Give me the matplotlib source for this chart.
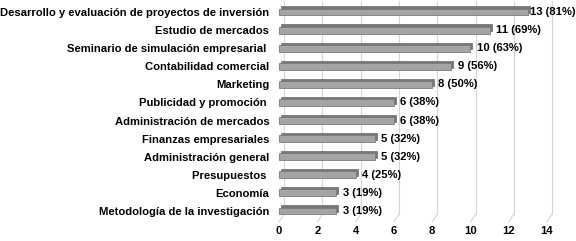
import matplotlib
matplotlib.use("Agg")
import matplotlib.pyplot as plt
from matplotlib.transforms import ScaledTranslation

categories = [
    "Desarrollo y evaluación de proyectos de inversión",
    "Estudio de mercados",
    "Seminario de simulación empresarial ",
    "Contabilidad comercial",
    "Marketing",
    "Publicidad y promoción ",
    "Administración de mercados",
    "Finanzas empresariales",
    "Administración general",
    "Presupuestos ",
    "Economía",
    "Metodología de la investigación",
]
counts = [13, 11, 10, 9, 8, 6, 6, 5, 5, 4, 3, 3]
percents = [81, 69, 63, 56, 50, 38, 38, 32, 32, 25, 19, 19]
xticks = [0, 2, 4, 6, 8, 10, 12, 14]

plt.rcParams['font.family'] = ['Liberation Sans', 'DejaVu Sans']

W, H = 576, 241
fig = plt.figure(figsize=(W / 100, H / 100), dpi=100)
left_px, right_px = 279, 547
top_px, bot_px = 1, 222
ax = fig.add_axes([left_px / W, 1 - bot_px / H, (right_px - left_px) / W, (bot_px - top_px) / H])

n = len(categories)
ypos = [n - 1 - i for i in range(n)]
ax.set_xlim(0, 14)
ax.set_ylim(-0.61, n - 1 + 0.61)

# back wall gridlines with a short floor diagonal (pseudo 3D)
dx = 0.27
floor_y = -0.17
for t in xticks:
    ax.plot([t + dx, t + dx], [n - 1 + 0.61, floor_y], color="#d4d4d4", lw=0.8, zorder=0, clip_on=False)
    ax.plot([t + dx, t], [floor_y, -0.61], color="#d4d4d4", lw=0.8, zorder=0, clip_on=False)

bh = 0.38
# depth / top face of bars
depth = ScaledTranslation(2.0 / 100, 2.2 / 100, fig.dpi_scale_trans)
ax.barh(ypos, counts, height=bh, color="#777777", edgecolor="#6a6a6a", lw=0.5,
        transform=ax.transData + depth, zorder=2)
ax.barh(ypos, counts, height=bh, color="#a4a4a4", edgecolor="#7a7a7a", lw=0.6, zorder=3)

for y, c, p in zip(ypos, counts, percents):
    ax.annotate(f"{c} ({p}%)", (c, y), xytext=(4.5 if c < 13 else 1.5, 0), textcoords="offset points",
                ha="left", va="center", fontsize=8.1, fontweight="bold", color="#000000")

ax.set_yticks(ypos)
ax.set_yticklabels(categories, fontsize=8.1, fontweight="bold")
ax.set_xticks(xticks)
ax.set_xticklabels([str(t) for t in xticks], fontsize=8.1, fontweight="bold")
ax.tick_params(axis="both", length=0)
ax.tick_params(axis="y", pad=7)
ax.tick_params(axis="x", pad=3)
for s in ax.spines.values():
    s.set_visible(False)
ax.patch.set_alpha(0)

fig.savefig("out.png", dpi=100)
